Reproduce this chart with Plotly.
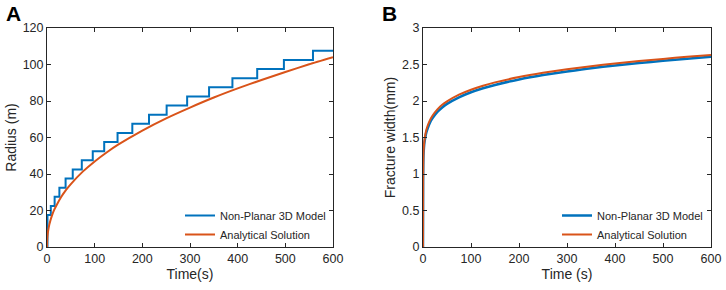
import plotly.graph_objects as go

BLUE = "#0072BD"
ORANGE = "#D95319"
FONT = "Liberation Sans, Arial, sans-serif"

# Panel A: radius vs time
step_time = [0, 1, 8, 16, 26, 39, 54, 73, 96, 120, 148, 179, 214, 251, 294, 340, 389, 441, 497, 558, 600]
step_radius = [0, 17.5, 22.5, 27.5, 32.5, 37.5, 42.5, 47.5, 52.5, 57.5, 62.5, 67.5, 72.5, 77.5, 82.5, 87.5, 92.5, 97.5, 102.5, 107.5, 107.5]

anal_time = [0, 0.5, 1, 2, 3, 5, 7, 10, 15, 20, 30, 40, 50, 75, 100, 125, 150, 200, 250, 300, 350, 400, 450, 500, 550, 600]
anal_radius = [0, 4.5, 6.1, 8.2, 9.8, 12.4, 14.4, 16.9, 20.3, 22.9, 27.5, 31.3, 34.5, 41.3, 46.9, 51.8, 56.2, 63.8, 70.5, 76.4, 81.9, 86.9, 91.5, 95.9, 100.1, 104.0]

# Panel B: fracture width vs time
w_time = [0, 0.3, 1, 2, 3, 5, 7, 10, 15, 20, 30, 40, 50, 75, 100, 125, 150, 200, 250, 300, 350, 400, 450, 500, 550, 600]
w_model = [0, 0.9, 1.25, 1.36, 1.43, 1.51, 1.57, 1.63, 1.71, 1.765, 1.85, 1.91, 1.96, 2.05, 2.12, 2.175, 2.22, 2.295, 2.355, 2.405, 2.45, 2.485, 2.52, 2.55, 2.58, 2.605]
w_anal = [0, 0.95, 1.29, 1.395, 1.46, 1.545, 1.605, 1.668, 1.745, 1.802, 1.886, 1.948, 1.995, 2.087, 2.155, 2.21, 2.255, 2.328, 2.386, 2.435, 2.477, 2.514, 2.547, 2.577, 2.605, 2.63]

x_ticks = [0, 100, 200, 300, 400, 500, 600]
a_yticks = [0, 20, 40, 60, 80, 100, 120]
b_yticks = [0, 0.5, 1, 1.5, 2, 2.5, 3]
b_yticklabels = ["0", "0.5", "1", "1.5", "2", "2.5", "3"]

fig = go.Figure()
fig.add_trace(go.Scatter(x=step_time, y=step_radius, mode="lines", line=dict(color=BLUE, width=2, shape="hv"),
                         name="Non-Planar 3D Model", xaxis="x", yaxis="y", legend="legend"))
fig.add_trace(go.Scatter(x=anal_time, y=anal_radius, mode="lines", line=dict(color=ORANGE, width=2, shape="spline", smoothing=0.6),
                         name="Analytical Solution", xaxis="x", yaxis="y", legend="legend"))
fig.add_trace(go.Scatter(x=w_time, y=w_model, mode="lines", line=dict(color=BLUE, width=2.5, shape="spline", smoothing=0.6),
                         name="Non-Planar 3D Model", xaxis="x2", yaxis="y2", legend="legend2"))
fig.add_trace(go.Scatter(x=w_time, y=w_anal, mode="lines", line=dict(color=ORANGE, width=2, shape="spline", smoothing=0.6),
                         name="Analytical Solution", xaxis="x2", yaxis="y2", legend="legend2"))

ax_common = dict(showline=True, linecolor="#262626", linewidth=1, mirror="ticks", ticks="inside",
                 ticklen=4, tickcolor="#262626", showgrid=False, zeroline=False, automargin=False,
                 tickfont=dict(family=FONT, size=12.5, color="#262626"))
ydom = [43 / 290, 262 / 290]
title_font = dict(family=FONT, size=14, color="#262626")

legend_common = dict(bgcolor="rgba(0,0,0,0)", borderwidth=0, font=dict(family=FONT, size=11, color="#262626"),
                     xanchor="right", yanchor="bottom", tracegroupgap=0, itemwidth=30)

fig.update_layout(
    template="none",
    width=726, height=290, margin=dict(l=0, r=0, t=0, b=0, pad=0),
    paper_bgcolor="white", plot_bgcolor="white",
    font=dict(family=FONT, color="#262626"),
    xaxis=dict(domain=[47 / 726, 333 / 726], range=[0, 600], tickvals=x_ticks, anchor="y",
               title=dict(text="Time(s)", font=title_font, standoff=4), **ax_common),
    yaxis=dict(domain=ydom, range=[0, 120], tickvals=a_yticks, anchor="x",
               title=dict(text="Radius (m)", font=title_font, standoff=2), **ax_common),
    xaxis2=dict(domain=[423 / 726, 711 / 726], range=[0, 600], tickvals=x_ticks, anchor="y2",
                title=dict(text="Time (s)", font=title_font, standoff=4), **ax_common),
    yaxis2=dict(domain=ydom, range=[0, 3], tickvals=b_yticks, ticktext=b_yticklabels, anchor="x2",
                title=dict(text="Fracture width(mm)", font=title_font, standoff=3), **ax_common),
    legend=dict(x=331 / 726, y=41 / 290, **legend_common),
    legend2=dict(x=708 / 726, y=41 / 290, **legend_common),
    annotations=[
        dict(text="<b>A</b>", x=0.006, y=1.0, xref="paper", yref="paper", xanchor="left", yanchor="top",
             showarrow=False, font=dict(family=FONT, size=21, color="black")),
        dict(text="<b>B</b>", x=380 / 726, y=1.0, xref="paper", yref="paper", xanchor="left", yanchor="top",
             showarrow=False, font=dict(family=FONT, size=21, color="black")),
    ],
)

fig.write_html("out.html", config={"displayModeBar": False},
               post_script="document.body.style.margin='0';document.body.style.overflow='hidden';")
